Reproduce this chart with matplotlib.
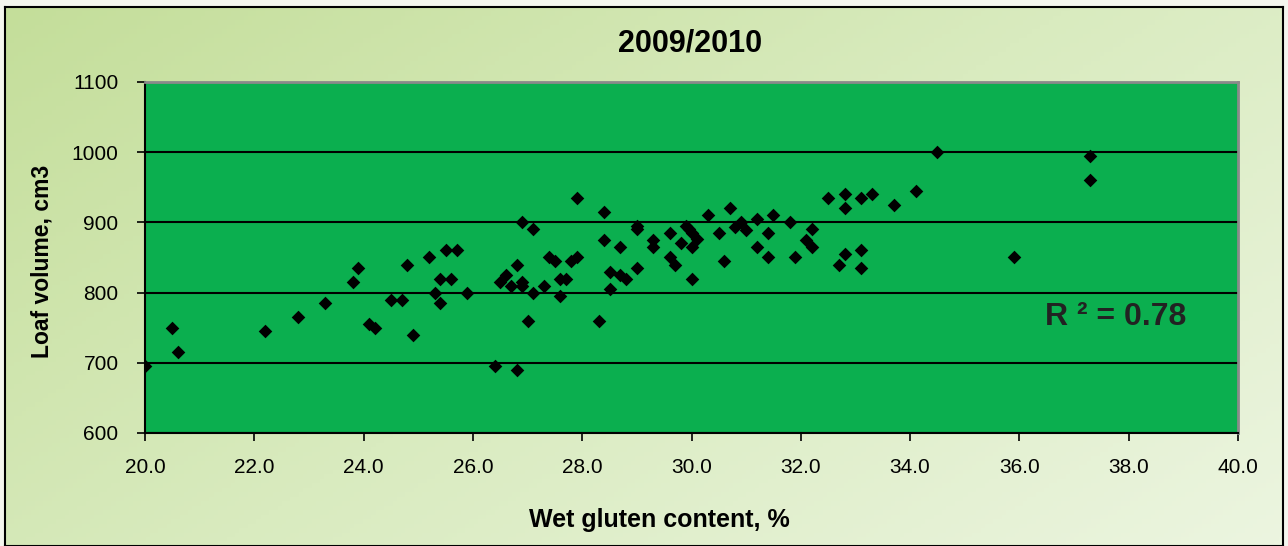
import numpy as np
import matplotlib
matplotlib.use("Agg")
from matplotlib import pyplot as plt
from matplotlib.colors import LinearSegmentedColormap

plt.rcParams['font.family'] = ['Liberation Sans', 'DejaVu Sans']

# wet gluten content (%) and loaf volume (cm3)
gluten = [20.0, 20.5, 20.6, 22.2, 22.8, 23.3, 23.8, 23.9, 24.1, 24.2,
          24.5, 24.7, 24.8, 24.9, 25.2, 25.3, 25.4, 25.4, 25.5, 25.6,
          25.7, 25.9, 26.4, 26.5, 26.6, 26.7, 26.8, 26.8, 26.9, 26.9,
          26.9, 27.0, 27.1, 27.1, 27.3, 27.4, 27.5, 27.6, 27.6, 27.7,
          27.8, 27.9, 27.9, 28.3, 28.4, 28.4, 28.5, 28.5, 28.7, 28.7,
          28.8, 29.0, 29.0, 29.0, 29.3, 29.3, 29.6, 29.6, 29.7, 29.8,
          29.9, 29.95, 30.0, 30.0, 30.0, 30.1, 30.3, 30.5, 30.6, 30.7,
          30.8, 30.9, 31.0, 31.2, 31.2, 31.4, 31.4, 31.5, 31.8, 31.9,
          32.1, 32.2, 32.2, 32.5, 32.7, 32.8, 32.8, 32.8, 33.1, 33.1,
          33.1, 33.3, 33.7, 34.1, 34.5, 35.9, 37.3, 37.3]
volume = [695, 750, 715, 745, 765, 785, 815, 835, 755, 750,
          790, 790, 840, 740, 850, 800, 820, 785, 860, 820,
          860, 800, 695, 815, 825, 810, 840, 690, 815, 810,
          900, 760, 890, 800, 810, 850, 845, 820, 795, 820,
          845, 935, 850, 760, 915, 875, 830, 805, 865, 825,
          820, 895, 890, 835, 875, 865, 885, 850, 840, 870,
          895, 890, 885, 865, 820, 876, 910, 885, 845, 920,
          893, 900, 889, 905, 865, 885, 850, 910, 900, 850,
          875, 890, 865, 935, 840, 940, 920, 855, 935, 860,
          835, 940, 925, 945, 1000, 850, 995, 960]

r2_text = "R ² = 0.78"

fig = plt.figure(figsize=(12.88, 5.46), dpi=100)
fig.patch.set_facecolor('#f4f6ee')

# light green gradient background with a black frame
bg = fig.add_axes([5 / 1288, 0, 1278 / 1288, 1 - 7 / 546])
cmap = LinearSegmentedColormap.from_list('bg', ['#c4de9a', '#d9ebbf', '#ecf5e0'])
gx, gy = np.meshgrid(np.linspace(0, 1, 300), np.linspace(0, 1, 120))
bg.imshow(gx * 0.6 + gy * 0.4, cmap=cmap, aspect='auto', extent=[0, 1, 0, 1])
bg.set_xticks([])
bg.set_yticks([])
for s in bg.spines.values():
    s.set_color('black')
    s.set_linewidth(1.5)

ax = fig.add_axes([145 / 1288, 113 / 546, 1093 / 1288, 351 / 546])
ax.set_facecolor('#0baf4f')
ax.scatter(gluten, volume, marker='D', s=48, color='black', zorder=3, linewidths=0)

ax.set_xlim(20, 40)
ax.set_ylim(600, 1100)
ax.set_xticks(np.arange(20, 40.1, 2))
ax.set_xticklabels([f"{v:.1f}" for v in np.arange(20, 40.1, 2)])
ax.set_yticks(range(600, 1101, 100))
ax.grid(axis='y', color='black', linewidth=1.5, zorder=1)
ax.tick_params(direction='out', length=6, width=1.2, labelsize=15, pad=12, color='black')
ax.tick_params(axis='y', pad=13)

ax.spines['left'].set_linewidth(1.5)
ax.spines['bottom'].set_linewidth(1.5)
ax.spines['top'].set_color('#8a8a8a')
ax.spines['right'].set_color('#8a8a8a')
ax.spines['top'].set_linewidth(2)
ax.spines['right'].set_linewidth(2)

fig.text(690 / 1288, 1 - 44 / 546, '2009/2010', fontsize=22, fontweight='bold',
         ha='center', va='center')
ax.set_xlabel('Wet gluten content, %', fontsize=18, fontweight='bold')
ax.xaxis.set_label_coords(0.471, -0.248)
ax.xaxis.label.set_va('center')
ax.set_ylabel('Loaf volume, cm3', fontsize=16.5, fontweight='bold')
ax.yaxis.set_label_coords(-0.094, 0.49)
ax.yaxis.label.set_va('center')
ax.text(0.888, 0.33, r2_text, transform=ax.transAxes, fontsize=23,
        fontweight='bold', color='#222222', ha='center', va='center')

fig.savefig('out.png', dpi=100)
